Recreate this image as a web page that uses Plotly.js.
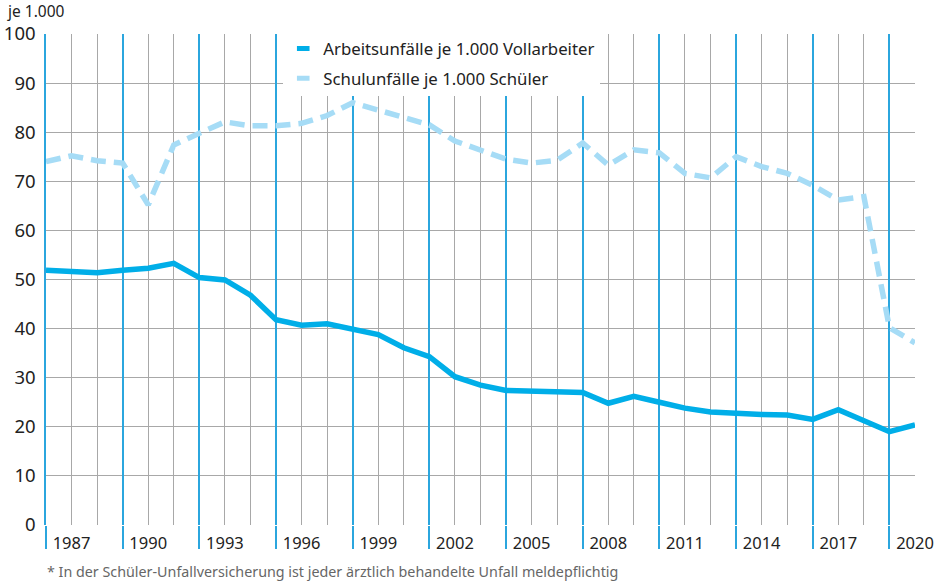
<!DOCTYPE html>
<html><head><meta charset="utf-8">
<script src="https://cdn.plot.ly/plotly-3.0.1.min.js"></script>
<style>html,body{margin:0;padding:0;background:#fff}#chart{width:945px;height:582px}</style>
</head><body><div id="chart"></div>
<script>
const years = [1986,1987,1988,1989,1990,1991,1992,1993,1994,1995,1996,1997,1998,1999,2000,2001,2002,2003,2004,2005,2006,2007,2008,2009,2010,2011,2012,2013,2014,2015,2016,2017,2018,2019,2020];
const arbeitsunfaelle = [51.9,51.6,51.4,51.9,52.3,53.3,50.4,49.9,46.8,41.8,40.7,41.0,40.0,38.8,36.1,34.3,30.2,28.5,27.4,27.2,27.0,27.0,24.8,26.2,25.0,23.8,23.0,22.7,22.5,22.4,21.5,23.5,21.4,19.0,20.4];
const schulunfaelle = [74.0,75.2,74.2,73.7,65.2,77.4,79.8,82.1,81.3,81.3,81.8,83.4,86.0,84.5,82.9,81.5,78.2,76.4,74.5,73.7,74.3,77.8,73.3,76.4,75.8,71.6,70.7,75.0,73.0,71.6,69.2,66.2,66.9,40.2,37.1];
const xTickVals = [1987,1990,1993,1996,1999,2002,2005,2008,2011,2014,2017,2020];
const xTickText = ['1987','1990','1993','1996','1999','2002','2005','2008','2011','2014','2017','2020'];
const blueLineYears = [1986,1989,1992,1995,1998,2001,2004,2007,2010,2013,2016,2019];
const yTickVals = [0,10,20,30,40,50,60,70,80,90,100];
const seriesNames = ['Arbeitsunfälle je 1.000 Vollarbeiter','Schulunfälle je 1.000 Schüler'];

const cDark = '#00aee8', cLight = '#a6dcf6', cBlueGrid = '#2ba6de', cGray = '#a8a8a8';
const FONT = 'Noto Sans, Lato, sans-serif';

const traces = [
  {x: years, y: schulunfaelle, mode:'lines', line:{color:cLight, width:5.5, dash:'15px,8px'}, showlegend:false, hoverinfo:'x+y'},
  {x: years, y: arbeitsunfaelle, mode:'lines', line:{color:cDark, width:5.5}, showlegend:false, hoverinfo:'x+y'},
  {x:[null], y:[null], xaxis:'x2', mode:'markers', name:seriesNames[0], legendgroup:'a', legendrank:1,
   marker:{symbol:'line-ew-open', size:9, color:cDark, line:{color:cDark, width:5}}},
  {x:[null], y:[null], xaxis:'x2', mode:'markers', name:seriesNames[1], legendgroup:'b', legendrank:2,
   marker:{symbol:'line-ew-open', size:9, color:cLight, line:{color:cLight, width:5}}}
];

const layout = {
  width:945, height:582,
  margin:{l:46, r:30, t:34, b:57},
  paper_bgcolor:'#fff', plot_bgcolor:'#fff',
  font:{family:FONT, color:'#222'},
  showlegend:true,
  legend:{x:0.273, y:1.006, xanchor:'left', yanchor:'top', bgcolor:'#fff', borderwidth:0,
          font:{size:16.8, color:'#222', family:FONT}, traceorder:'grouped', tracegroupgap:5},
  xaxis:{range:[1986,2020], tickmode:'array', tickvals:xTickVals, ticktext:xTickText,
         showgrid:true, gridcolor:cGray, gridwidth:1,
         minor:{dtick:1, tick0:1986, showgrid:true, gridcolor:cGray, gridwidth:1},
         zeroline:false, showline:false, ticks:'', ticklabelstandoff:6,
         tickfont:{size:16.5, color:'#222', family:FONT}},
  xaxis2:{range:[1986,2020], overlaying:'x', anchor:'y', side:'bottom', tickmode:'array', tickvals:blueLineYears,
          showgrid:true, gridcolor:cBlueGrid, gridwidth:1.5, showticklabels:false,
          ticks:'outside', ticklen:23, tickwidth:1.5, tickcolor:cBlueGrid, zeroline:false, showline:false},
  yaxis:{range:[0,100], tickmode:'array', tickvals:yTickVals, showgrid:true, gridcolor:cGray, gridwidth:1,
         zeroline:false, showline:true, linecolor:cBlueGrid, linewidth:1.5, mirror:false,
         ticks:'outside', ticklen:5, tickcolor:'rgba(0,0,0,0)',
         tickfont:{size:18.5, color:'#222', family:FONT}},
  annotations:[
    {text:'je 1.000', xref:'paper', yref:'paper', x:0, y:1, xanchor:'left', yanchor:'middle',
     xshift:-41, yshift:23, showarrow:false, font:{size:15.5, color:'#222', family:FONT}},
    {text:'* In der Schüler-Unfallversicherung ist jeder ärztlich behandelte Unfall meldepflichtig',
     xref:'paper', yref:'paper', x:0, y:0, xanchor:'left', yanchor:'middle', xshift:-1, yshift:-46,
     showarrow:false, font:{size:14.3, color:'#666', family:FONT}}
  ]
};

Plotly.newPlot('chart', traces, layout, {displayModeBar:false, responsive:false});
</script>
</body></html>
